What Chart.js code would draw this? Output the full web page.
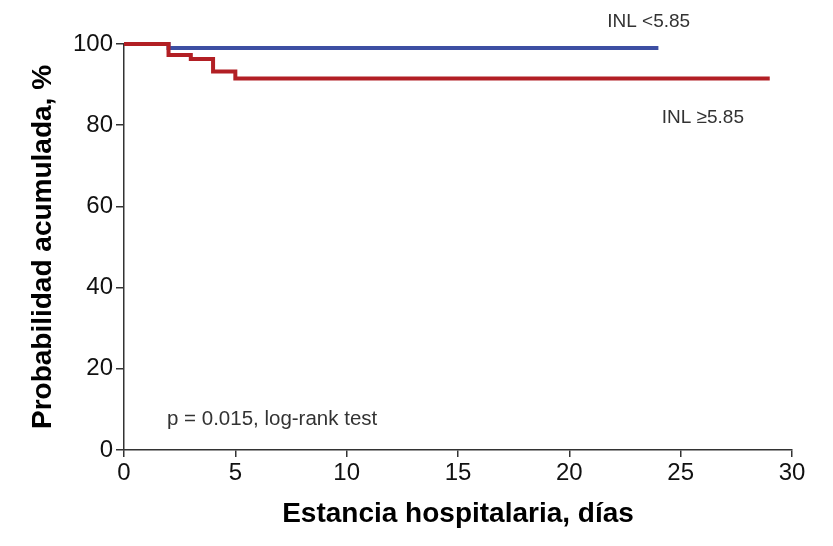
<!DOCTYPE html>
<html>
<head>
<meta charset="utf-8">
<script src="https://cdn.jsdelivr.net/npm/chart.js@4/dist/chart.umd.min.js"></script>
<style>
  html, body { margin: 0; padding: 0; background: #ffffff; }
  #wrap { width: 833px; height: 546px; }
</style>
</head>
<body>
<div id="wrap"><canvas id="c" width="833" height="546"></canvas></div>
<script>
// ---- data ----
const xTickValues = [0, 5, 10, 15, 20, 25, 30];
const yTickValues = [0, 20, 40, 60, 80, 100];

const lowDays  = [0, 2, 24];            // INL <5.85
const lowProb  = [100, 99.0, 99.0];

const highDays = [0, 2, 3, 4, 5, 29];   // INL ≥5.85
const highProb = [100, 97.3, 96.3, 93.2, 91.5, 91.5];

const seriesNames = ['INL <5.85', 'INL \u22655.85'];
const xTitle = 'Estancia hospitalaria, días';
const yTitle = 'Probabilidad acumulada, %';
const pText = 'p = 0.015, log-rank test';

const toPoints = (xs, ys) => xs.map((x, i) => ({ x: x, y: ys[i] }));

// text notes anchored in data units
const notes = [
  { text: seriesNames[0], x: 21.7, y: 105.4, size: 19 },
  { text: seriesNames[1], x: 24.15, y: 81.8, size: 19 },
  { text: pText, x: 1.93, y: 7.6, size: 20.5 }
];

const notePlugin = {
  id: 'notes',
  afterDraw(chart) {
    const ctx = chart.ctx;
    const xs = chart.scales.x, ys = chart.scales.y;
    ctx.save();
    ctx.fillStyle = '#333333';
    ctx.textAlign = 'left';
    ctx.textBaseline = 'middle';
    notes.forEach(n => {
      ctx.font = n.size + 'px "Liberation Sans", Arial, sans-serif';
      ctx.fillText(n.text, xs.getPixelForValue(n.x), ys.getPixelForValue(n.y));
    });
    ctx.restore();
  }
};

const axisColor = '#333333';
const tickFont = { family: '"Liberation Sans", Arial, sans-serif', size: 24 };

new Chart(document.getElementById('c'), {
  type: 'line',
  data: {
    datasets: [
      {
        label: seriesNames[1],
        data: toPoints(highDays, highProb),
        borderColor: '#b21f24',
        borderWidth: 4,
        stepped: 'before',
        pointRadius: 0,
        fill: false,
        clip: false,
        borderJoinStyle: 'miter',
        order: 0
      },
      {
        label: seriesNames[0],
        data: toPoints(lowDays, lowProb),
        borderColor: '#3d4fa3',
        borderWidth: 4,
        stepped: 'before',
        pointRadius: 0,
        fill: false,
        clip: false,
        borderJoinStyle: 'miter',
        order: 1
      }
    ]
  },
  options: {
    responsive: false,
    animation: false,
    devicePixelRatio: 1,
    layout: { padding: { top: 44, right: 41, left: 0, bottom: 0 } },
    plugins: { legend: { display: false }, tooltip: { enabled: false } },
    scales: {
      x: {
        type: 'linear',
        min: 0, max: 30,
        afterBuildTicks(scale) { scale.ticks = xTickValues.map(v => ({ value: v })); },
        afterFit(scale) { scale.height = 96; },
        ticks: { font: tickFont, color: '#111111', padding: 2, maxRotation: 0 },
        grid: { drawOnChartArea: false, drawTicks: true, tickLength: 7, color: axisColor, lineWidth: 1.5 },
        border: { display: true, color: axisColor, width: 1.5 },
        title: {
          display: true, text: xTitle, color: '#000000',
          font: { family: '"Liberation Sans", Arial, sans-serif', size: 28, weight: 'bold' },
          padding: { top: 0, bottom: 15 }
        }
      },
      y: {
        type: 'linear',
        min: 0, max: 100,
        afterBuildTicks(scale) { scale.ticks = yTickValues.map(v => ({ value: v })); },
        afterFit(scale) { scale.width = 124; },
        ticks: { font: tickFont, color: '#111111', padding: 3 },
        grid: { drawOnChartArea: false, drawTicks: true, tickLength: 8, color: axisColor, lineWidth: 1.5 },
        border: { display: true, color: axisColor, width: 1.5 },
        title: {
          display: true, text: yTitle, color: '#000000',
          font: { family: '"Liberation Sans", Arial, sans-serif', size: 28, weight: 'bold' },
          padding: { top: 26, bottom: 0 }
        }
      }
    }
  },
  plugins: [notePlugin]
});
</script>
</body>
</html>
